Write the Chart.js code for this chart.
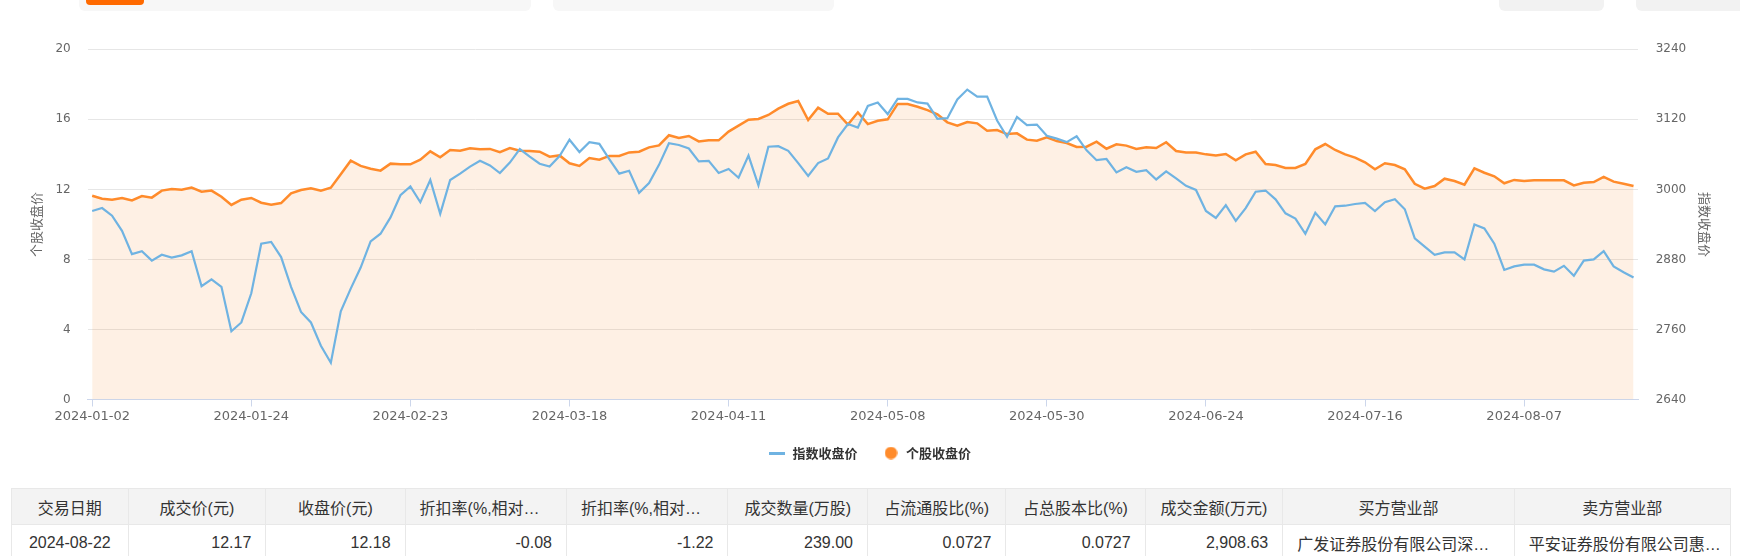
<!doctype html>
<html lang="zh">
<head>
<meta charset="utf-8">
<title>个股收盘价与指数收盘价</title>
<script src="https://cdn.jsdelivr.net/npm/chart.js@4.4.0/dist/chart.umd.min.js"></script>
<style>
  body { margin:0; width:1740px; height:556px; overflow:hidden; background:#fff; position:relative;
         font-family:"Liberation Sans","Noto Sans CJK SC",sans-serif; }
  .tab { position:absolute; top:-6px; height:16.7px; background:#f7f7f7; border-radius:6px; }
  .tab.dark { background:#f2f2f2; }
  .tab.on { background:#ff6a00; height:11px; border-radius:4px; }
  #priceChart { position:absolute; left:0; top:0; }
  table.deal { position:absolute; left:11px; top:488px; width:1719px; table-layout:fixed;
               border-collapse:collapse; font-size:16px; color:#333; }
  table.deal th, table.deal td { height:35px; padding:0 14px; border:1px solid #e8e8e8;
               white-space:nowrap; overflow:hidden; font-weight:normal; }
  table.deal th { background:#f3f3f3; text-align:center; }
  table.deal .cut, table.deal .t { text-align:left; }
  table.deal .n { text-align:right; }
  table.deal .c { text-align:center; }
</style>
</head>
<body>
<div class="tab" style="left:79px;width:452px;"></div>
<div class="tab on" style="left:86px;width:58px;"></div>
<div class="tab" style="left:553px;width:281px;"></div>
<div class="tab dark" style="left:1499px;width:105px;"></div>
<div class="tab dark" style="left:1636px;width:110px;"></div>

<canvas id="priceChart" width="1740" height="470"></canvas>

<table class="deal">
  <colgroup>
    <col style="width:116.6px"><col style="width:137.7px"><col style="width:139.3px">
    <col style="width:161.4px"><col style="width:161.5px"><col style="width:139.5px">
    <col style="width:138.4px"><col style="width:139.3px"><col style="width:137.6px">
    <col style="width:231.4px"><col style="width:216.3px">
  </colgroup>
  <thead>
    <tr><th>交易日期</th><th>成交价(元)</th><th>收盘价(元)</th><th class="cut">折扣率(%,相对…</th>
        <th class="cut">折扣率(%,相对…</th><th>成交数量(万股)</th><th>占流通股比(%)</th>
        <th>占总股本比(%)</th><th>成交金额(万元)</th><th>买方营业部</th><th>卖方营业部</th></tr>
  </thead>
  <tbody>
    <tr><td class="c">2024-08-22</td><td class="n">12.17</td><td class="n">12.18</td><td class="n">-0.08</td>
        <td class="n">-1.22</td><td class="n">239.00</td><td class="n">0.0727</td><td class="n">0.0727</td>
        <td class="n">2,908.63</td><td class="t">广发证券股份有限公司深…</td><td class="t">平安证券股份有限公司惠…</td></tr>
  </tbody>
</table>

<script>
// trading days shown on the x axis
const dates = [
  '2024-01-02','2024-01-03','2024-01-04','2024-01-05','2024-01-08','2024-01-09','2024-01-10','2024-01-11',
  '2024-01-12','2024-01-15','2024-01-16','2024-01-17','2024-01-18','2024-01-19','2024-01-22','2024-01-23',
  '2024-01-24','2024-01-25','2024-01-26','2024-01-29','2024-01-30','2024-01-31',
  '2024-02-01','2024-02-02','2024-02-05','2024-02-06','2024-02-07','2024-02-08','2024-02-19','2024-02-20',
  '2024-02-21','2024-02-22','2024-02-23','2024-02-26','2024-02-27','2024-02-28','2024-02-29',
  '2024-03-01','2024-03-04','2024-03-05','2024-03-06','2024-03-07','2024-03-08','2024-03-11','2024-03-12',
  '2024-03-13','2024-03-14','2024-03-15','2024-03-18','2024-03-19','2024-03-20','2024-03-21','2024-03-22',
  '2024-03-25','2024-03-26','2024-03-27','2024-03-28','2024-03-29',
  '2024-04-01','2024-04-02','2024-04-03','2024-04-08','2024-04-09','2024-04-10','2024-04-11','2024-04-12',
  '2024-04-15','2024-04-16','2024-04-17','2024-04-18','2024-04-19','2024-04-22','2024-04-23','2024-04-24',
  '2024-04-25','2024-04-26','2024-04-29','2024-04-30',
  '2024-05-06','2024-05-07','2024-05-08','2024-05-09','2024-05-10','2024-05-13','2024-05-14','2024-05-15',
  '2024-05-16','2024-05-17','2024-05-20','2024-05-21','2024-05-22','2024-05-23','2024-05-24','2024-05-27',
  '2024-05-28','2024-05-29','2024-05-30','2024-05-31',
  '2024-06-03','2024-06-04','2024-06-05','2024-06-06','2024-06-07','2024-06-11','2024-06-12','2024-06-13',
  '2024-06-14','2024-06-17','2024-06-18','2024-06-19','2024-06-20','2024-06-21','2024-06-24','2024-06-25',
  '2024-06-26','2024-06-27','2024-06-28',
  '2024-07-01','2024-07-02','2024-07-03','2024-07-04','2024-07-05','2024-07-08','2024-07-09','2024-07-10',
  '2024-07-11','2024-07-12','2024-07-15','2024-07-16','2024-07-17','2024-07-18','2024-07-19','2024-07-22',
  '2024-07-23','2024-07-24','2024-07-25','2024-07-26','2024-07-29','2024-07-30','2024-07-31',
  '2024-08-01','2024-08-02','2024-08-05','2024-08-06','2024-08-07','2024-08-08','2024-08-09','2024-08-12',
  '2024-08-13','2024-08-14','2024-08-15','2024-08-16','2024-08-19','2024-08-20','2024-08-21','2024-08-22'
];

// labelled dates on the x axis
const xTickDates = ['2024-01-02','2024-01-24','2024-02-23','2024-03-18','2024-04-11',
                    '2024-05-08','2024-05-30','2024-06-24','2024-07-16','2024-08-07'];

// 指数收盘价 (right axis)
const indexClose = [
  2963, 2968, 2955, 2929, 2889, 2894, 2878, 2888, 2883, 2887,
  2894, 2834, 2846, 2833, 2757, 2772, 2822, 2907, 2910, 2884,
  2833, 2790, 2772, 2732, 2703, 2791, 2830, 2866, 2911, 2924,
  2952, 2990, 3005, 2978, 3016, 2958, 3016, 3027, 3039, 3049,
  3041, 3028, 3046, 3069, 3056, 3044, 3039, 3057, 3085, 3064,
  3081, 3078, 3052, 3027, 3032, 2994, 3011, 3042, 3079, 3076,
  3070, 3048, 3049, 3028, 3035, 3020, 3058, 3007, 3073, 3074,
  3066, 3045, 3023, 3045, 3053, 3089, 3112, 3106, 3143, 3149,
  3129, 3155, 3155, 3149, 3147, 3121, 3122, 3154, 3171, 3159,
  3159, 3118, 3090, 3124, 3110, 3111, 3092, 3087, 3081, 3091,
  3067, 3050, 3052, 3029, 3038, 3030, 3033, 3017, 3031, 3019,
  3006, 2999, 2963, 2951, 2973, 2946, 2968, 2996, 2998, 2983,
  2959, 2950, 2924, 2960, 2940, 2971, 2972, 2975, 2977, 2963,
  2978, 2983, 2966, 2916, 2902, 2888, 2892, 2892, 2880, 2940,
  2933, 2907, 2862, 2868, 2871, 2871, 2863, 2859, 2869, 2852,
  2878, 2880, 2894, 2868, 2858, 2849
];

// 个股收盘价 (left axis)
const stockClose = [
  11.64, 11.47, 11.41, 11.51, 11.37, 11.62, 11.53, 11.93, 12.02, 11.98,
  12.10, 11.87, 11.93, 11.58, 11.11, 11.41, 11.51, 11.24, 11.13, 11.22,
  11.77, 11.96, 12.06, 11.93, 12.10, 12.86, 13.64, 13.34, 13.18, 13.07,
  13.47, 13.43, 13.43, 13.70, 14.17, 13.83, 14.25, 14.21, 14.35, 14.29,
  14.31, 14.13, 14.36, 14.21, 14.19, 14.15, 13.87, 13.94, 13.49, 13.34,
  13.79, 13.70, 13.91, 13.91, 14.11, 14.15, 14.40, 14.51, 15.09, 14.93,
  15.05, 14.74, 14.80, 14.80, 15.30, 15.64, 15.98, 16.02, 16.25, 16.61,
  16.89, 17.05, 15.96, 16.67, 16.32, 16.32, 15.70, 16.40, 15.73, 15.92,
  16.00, 16.88, 16.88, 16.72, 16.53, 16.29, 15.83, 15.64, 15.85, 15.77,
  15.35, 15.39, 15.16, 15.20, 14.84, 14.78, 14.97, 14.76, 14.65, 14.42,
  14.44, 14.72, 14.32, 14.57, 14.50, 14.31, 14.40, 14.36, 14.69, 14.19,
  14.11, 14.11, 14.00, 13.94, 14.02, 13.66, 14.00, 14.15, 13.45, 13.39,
  13.22, 13.22, 13.45, 14.29, 14.59, 14.25, 14.00, 13.81, 13.55, 13.15,
  13.49, 13.39, 13.15, 12.32, 12.04, 12.19, 12.61, 12.48, 12.27, 13.20,
  12.95, 12.75, 12.35, 12.54, 12.48, 12.52, 12.52, 12.52, 12.52, 12.23,
  12.38, 12.42, 12.71, 12.44, 12.32, 12.19
];

const blue = '#6fb3e2';
const orange = '#ff8b2b';
const family = "'DejaVu Sans','Noto Sans CJK SC',sans-serif";
const cjk = "'Noto Sans CJK SC',sans-serif";

// little canvases used as legend markers (line for the index, dot for the stock)
function legendMark(kind, color) {
  const c = document.createElement('canvas');
  const g = c.getContext('2d');
  if (kind === 'line') {
    c.width = 16; c.height = 3;
    g.fillStyle = color;
    g.fillRect(0, 0, 16, 3);
  } else {
    c.width = 13; c.height = 13;
    g.fillStyle = color;
    g.beginPath();
    g.arc(6.5, 6.5, 6.2, 0, Math.PI * 2);
    g.fill();
  }
  return c;
}

const tickIdx = xTickDates.map(d => dates.indexOf(d));
const ctx = document.getElementById('priceChart');

new Chart(ctx, {
  type: 'line',
  data: {
    datasets: [{
      label: '指数收盘价',
      data: indexClose.map((v, i) => ({ x: i, y: v })),
      yAxisID: 'yR',
      borderColor: blue,
      backgroundColor: blue,
      borderWidth: 2.2,
      pointRadius: 0,
      pointStyle: legendMark('line', blue),
      fill: false
    }, {
      label: '个股收盘价',
      data: stockClose.map((v, i) => ({ x: i, y: v })),
      yAxisID: 'yL',
      borderColor: orange,
      backgroundColor: 'rgba(250,130,30,0.12)',
      borderWidth: 2.5,
      pointRadius: 0,
      pointStyle: legendMark('circle', orange),
      fill: 'origin'
    }]
  },
  options: {
    responsive: false,
    animation: false,
    events: [],
    layout: { padding: { top: 49.3, bottom: 0.5, left: 0, right: 0 } },
    scales: {
      x: {
        type: 'linear',
        min: -0.45,
        max: 155.45,
        afterBuildTicks: s => { s.ticks = tickIdx.map(v => ({ value: v })); },
        afterFit: s => { s.height = 22; },
        grid: { drawOnChartArea: false, drawTicks: true, tickLength: 7, color: '#ccd6eb' },
        border: { color: '#ccd6eb' },
        ticks: {
          padding: 2.4, color: '#666', font: { family: family, size: 13 },
          maxRotation: 0, autoSkip: false,
          callback: v => dates[v]
        }
      },
      yL: {
        position: 'left',
        min: 0, max: 20,
        afterFit: s => { s.width = 87.7; },
        ticks: { stepSize: 4, padding: 17, color: '#666', font: { family: family, size: 12 } },
        grid: { color: '#e6e6e6', drawTicks: false },
        border: { display: false },
        title: { display: true, text: '个股收盘价', color: '#666', font: { family: cjk, size: 13 },
                 padding: { top: 28.6, bottom: 0 } }
      },
      yR: {
        position: 'right',
        min: 2640, max: 3240,
        afterFit: s => { s.width = 102; },
        ticks: { stepSize: 120, padding: 17.7, color: '#666', font: { family: family, size: 12 },
                 callback: v => String(v) },
        grid: { drawOnChartArea: false, drawTicks: false },
        border: { display: false },
        title: { display: true, text: '指数收盘价', color: '#666', font: { family: cjk, size: 13 },
                 padding: { top: 27.2, bottom: 0 } }
      }
    },
    plugins: {
      tooltip: { enabled: false },
      legend: {
        position: 'bottom',
        labels: {
          usePointStyle: true,
          pointStyleWidth: 17,
          padding: 25,
          color: '#333',
          font: { family: cjk, size: 13, weight: 'bold' }
        }
      }
    }
  }
});
</script>
</body>
</html>
